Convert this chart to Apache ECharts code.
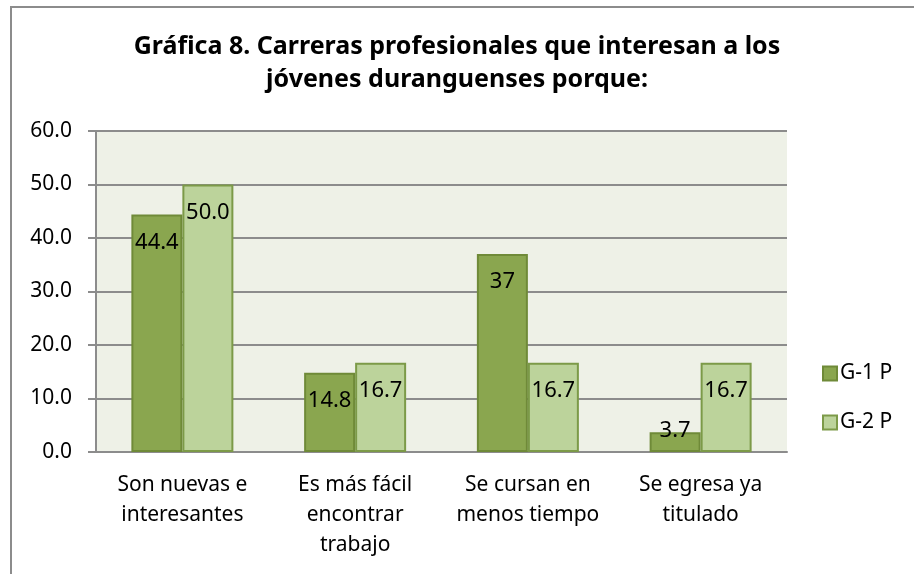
<!DOCTYPE html>
<html>
<head>
<meta charset="utf-8">
<script src="https://cdn.jsdelivr.net/npm/echarts@6/dist/echarts.min.js"></script>
<style>
  html, body { margin: 0; padding: 0; background: #fff; }
  #chart { width: 914px; height: 574px; }
</style>
</head>
<body>
<div id="chart"></div>
<script>
const titleText = "Gráfica 8. Carreras profesionales que interesan a los\njóvenes duranguenses porque:";
const categories = [
  "Son nuevas e\ninteresantes",
  "Es más fácil\nencontrar\ntrabajo",
  "Se cursan en\nmenos tiempo",
  "Se egresa ya\ntitulado"
];
const seriesNames = ["G-1 P", "G-2 P"];
const g1Values = [44.4, 14.8, 37, 3.7];
const g2Values = [50.0, 16.7, 16.7, 16.7];
const yTicks = [0, 10, 20, 30, 40, 50, 60];

const font = "Noto Sans";

// small bars get their label pushed up over the top edge, like Excel does
function toItems(values) {
  return values.map((v) => {
    if (v < 8) {
      return { value: v, label: { position: "top", distance: -10 } };
    }
    return v;
  });
}

const chart = echarts.init(document.getElementById("chart"));
const labelBase = {
  show: true,
  position: "insideTop",
  distance: 17,
  color: "#000",
  fontFamily: font,
  fontSize: 22
};

chart.setOption({
  animation: false,
  title: {
    text: titleText,
    left: "center",
    top: 25,
    textStyle: { fontFamily: font, fontWeight: "bold", fontSize: 25, color: "#000", lineHeight: 33 }
  },
  graphic: [{
    type: "rect",
    shape: { x: 11, y: 7, width: 1000, height: 1000 },
    style: { fill: "none", stroke: "#8c8c8c", lineWidth: 2 },
    silent: true
  }],
  legend: {
    orient: "vertical",
    left: 822,
    top: 363,
    padding: 0,
    itemWidth: 14,
    itemHeight: 14,
    itemGap: 28,
    icon: "rect",
    textStyle: { fontFamily: font, fontSize: 21, color: "#000", padding: [0, 0, 0, -2] },
    data: seriesNames
  },
  grid: {
    left: 96, right: 127, top: 131, bottom: 122,
    show: true, backgroundColor: "#eef1e7", borderWidth: 0
  },
  xAxis: {
    type: "category",
    data: categories,
    axisLine: { lineStyle: { color: "#8c8c8c", width: 2 } },
    axisTick: { length: 8, lineStyle: { color: "#8c8c8c", width: 2 } },
    axisLabel: { fontFamily: font, fontSize: 21, color: "#000", lineHeight: 30, margin: 18, interval: 0 }
  },
  yAxis: {
    type: "value",
    min: yTicks[0],
    max: yTicks[yTicks.length - 1],
    interval: 10,
    axisLine: { show: true, lineStyle: { color: "#8c8c8c", width: 2 } },
    axisTick: { show: true, length: 8, lineStyle: { color: "#8c8c8c", width: 2 } },
    splitLine: { lineStyle: { color: "#8c8c8c", width: 2 } },
    axisLabel: { fontFamily: font, fontSize: 21, color: "#000", margin: 24, formatter: (v) => v.toFixed(1) }
  },
  series: [
    {
      name: seriesNames[0],
      type: "bar",
      data: toItems(g1Values),
      barWidth: 51,
      barGap: "0%",
      itemStyle: { color: "#8aa64f", borderColor: "#6f8a38", borderWidth: 2 },
      label: { ...labelBase, formatter: (p) => String(p.value) }
    },
    {
      name: seriesNames[1],
      type: "bar",
      data: toItems(g2Values),
      barWidth: 51,
      itemStyle: { color: "#bcd39b", borderColor: "#7c9a48", borderWidth: 2 },
      label: { ...labelBase, formatter: (p) => p.value.toFixed(1) }
    }
  ]
});
window.addEventListener("resize", () => chart.resize());
</script>
</body>
</html>
